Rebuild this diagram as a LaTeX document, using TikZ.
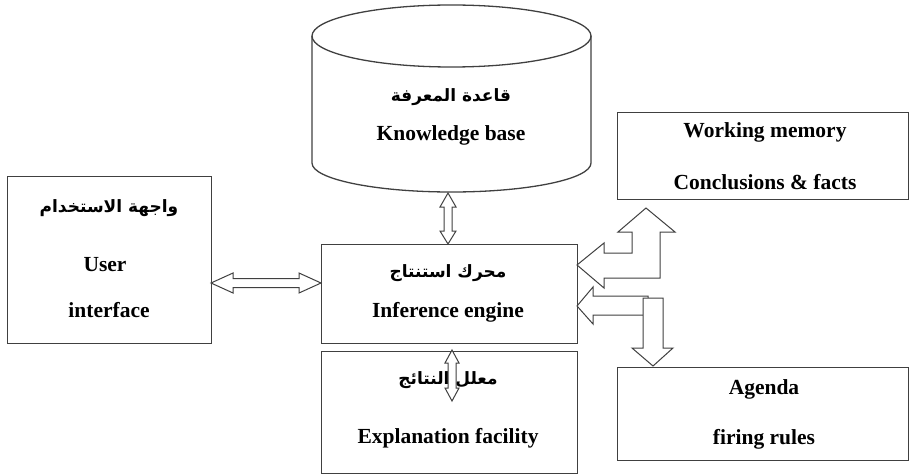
\documentclass[tikz,border=0pt]{standalone}
\usepackage{fontspec}
\setmainfont{Liberation Serif}
\newfontfamily\arabicfont[Script=Arabic]{DejaVu Sans}
\TeXXeTstate=1
\definecolor{linecol}{gray}{0.25}
\begin{document}
\begin{tikzpicture}[x=1pt,y=-1pt,
  box/.style={draw=linecol, line width=1.3pt, fill=white, inner sep=0pt, anchor=north west},
  en/.style={font=\fontsize{21.5}{24}\selectfont\bfseries, inner sep=0pt, text=black},
  ar/.style={font=\arabicfont\fontsize{17}{20}\selectfont\bfseries, inner sep=0pt, text=black},
  barrow/.style={draw=linecol, line width=1pt, fill=white, line join=miter}]
\useasboundingbox (0,0) rectangle (912,476);

% Knowledge base cylinder
\draw[linecol, line width=1.3pt] (312,36) -- (312,163)
  .. controls (312,179) and (374.5,192) .. (451.5,192)
  .. controls (528.5,192) and (591,179) .. (591,163) -- (591,36);
\draw[linecol, line width=1.3pt] (451.5,36) ellipse [x radius=139.5pt, y radius=31pt];
\coordinate (kbbottom) at (451.5,192);
\node[ar] (kbar) at (451,97) {\beginR قاعدة المعرفة\endR};
\node[en] (kben) at (451,135) {Knowledge base};

% Boxes
\node[box, minimum width=204pt, minimum height=167pt] (ui) at (7,176) {};
\node[box, minimum width=256pt, minimum height=99pt] (ie) at (321,244) {};
\node[box, minimum width=256pt, minimum height=122pt] (ef) at (321,351) {};
\node[box, minimum width=291pt, minimum height=87pt] (wm) at (617,112) {};
\node[box, minimum width=291pt, minimum height=93pt] (ag) at (617,367) {};

% Texts
\node[ar] (uiar) at (109,208) {\beginR واجهة الاستخدام\endR};
\node[en] (uien1) at (105,265) {User};
\node[en] (uien2) at (109,310) {interface};
\node[ar] (iear) at (448,273) {\beginR محرك استنتاج\endR};
\node[en] (ieen) at (448,312) {Inference engine};
\node[ar] (efar) at (448,380) {\beginR معلل النتائج\endR};
\node[en] (efen) at (448,438) {Explanation facility};
\node[en] (wm1) at (765,132) {Working memory};
\node[en] (wm2) at (765,182) {Conclusions \& facts};
\node[en] (ag1) at (764,389) {Agenda};
\node[en] (ag2) at (764,439) {firing rules};

% User interface <-> inference engine
\draw[barrow] (211,283) -- (233,273) -- (233,278.5) -- (299,278.5) -- (299,273) -- (321,283)
  -- (299,293) -- (299,287.5) -- (233,287.5) -- (233,293) -- cycle;
% Knowledge base <-> inference engine
\draw[barrow] (448,193) -- (456,207) -- (452,207) -- (452,231) -- (456,231) -- (448,244)
  -- (440,231) -- (444,231) -- (444,207) -- (440,207) -- cycle;
% Explanation arrow
\draw[barrow] (452,350) -- (459,363) -- (456,363) -- (456,388) -- (459,388) -- (452,401)
  -- (445,388) -- (448,388) -- (448,363) -- (445,363) -- cycle;
% Working memory <-> inference engine (bent)
\draw[barrow] (577,265) -- (604,243) -- (604,253) -- (632,253) -- (632,232) -- (618,232)
  -- (646,208) -- (675,232) -- (660,232) -- (660,278) -- (604,278) -- (604,288) -- cycle;
% Agenda -> inference engine
\draw[barrow] (577,306) -- (593,287) -- (593,296) -- (648,296) -- (648,315) -- (593,315)
  -- (593,324) -- cycle;
% Inference -> agenda (down)
\draw[barrow] (643,298) -- (663,298) -- (663,348) -- (673,348) -- (653,366) -- (632,348)
  -- (643,348) -- cycle;
\end{tikzpicture}
\end{document}
